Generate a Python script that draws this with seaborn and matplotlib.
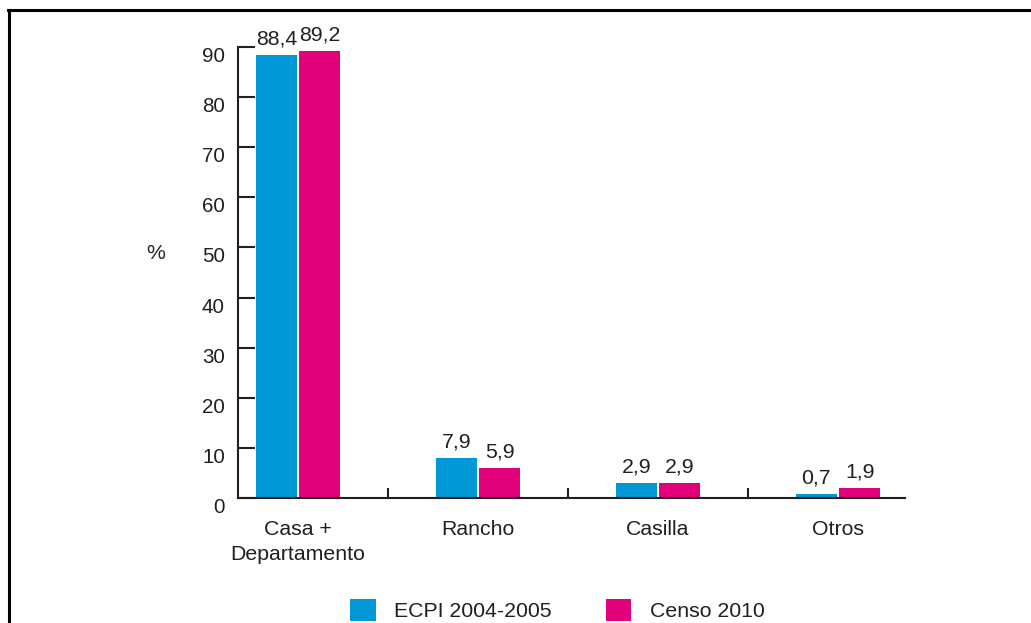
import matplotlib
matplotlib.use("Agg")
import matplotlib.pyplot as plt
from matplotlib.lines import Line2D
import seaborn as sns
import pandas as pd

categories = ["Casa +\nDepartamento", "Rancho", "Casilla", "Otros"]
series_names = ["ECPI 2004-2005", "Censo 2010"]
ecpi_values = [88.4, 7.9, 2.9, 0.7]
censo_values = [89.2, 5.9, 2.9, 1.9]
y_ticks = [0, 10, 20, 30, 40, 50, 60, 70, 80, 90]
colors = ["#0098D6", "#E3007B"]

df = pd.DataFrame({
    "cat": categories * 2,
    "serie": [series_names[0]] * 4 + [series_names[1]] * 4,
    "val": ecpi_values + censo_values,
})

sns.set_theme(style="ticks")
plt.rcParams["font.family"] = ["Liberation Sans", "DejaVu Sans"]
text_color = "#231F20"
plt.rcParams["text.color"] = text_color
plt.rcParams["xtick.color"] = text_color
plt.rcParams["ytick.color"] = text_color
plt.rcParams["axes.edgecolor"] = text_color

W, H = 1031, 623
fig = plt.figure(figsize=(W / 100, H / 100), dpi=100)
ax = fig.add_axes([238 / W, 1 - 498 / H, (905 - 238) / W, (498 - 47) / H])

sns.barplot(data=df, x="cat", y="val", hue="serie", order=categories,
            hue_order=series_names, palette=colors, width=0.48, gap=0.06,
            errorbar=None, linewidth=0, saturation=1, ax=ax)

for cont in ax.containers:
    labels = [f"{b.get_height():.1f}".replace(".", ",") for b in cont]
    ax.bar_label(cont, labels=labels, padding=5, fontsize=15.3, color=text_color)

ax.set_xlim(-0.333, 3.372)
ax.set_ylim(0, 90)
ax.set_yticks(y_ticks)
ax.set_xticks(range(len(categories)))
ax.set_xticklabels(categories, fontsize=15.3, linespacing=1.4)
ax.set_xticks([0.5, 1.5, 2.5], minor=True)
ax.tick_params(axis="x", which="major", length=0, pad=16)
ax.tick_params(axis="x", which="minor", direction="in", length=7.5, width=1.5)
ax.tick_params(axis="y", direction="in", length=12.5, width=1.5, pad=9.4, labelsize=14.8)
for lbl in ax.get_yticklabels():
    lbl.set_va("top")

for s in ["top", "right"]:
    ax.spines[s].set_visible(False)
for s in ["left", "bottom"]:
    ax.spines[s].set_linewidth(1.5)

ax.set_xlabel("")
ax.set_ylabel("%", rotation=0, fontsize=15.3, ha="center", va="center")
ax.yaxis.set_label_coords(-0.123, 0.543)

sns.move_legend(ax, loc="center left", bbox_to_anchor=(350 / W, (H - 610) / H),
                bbox_transform=fig.transFigure, ncol=2, frameon=False, title=None,
                fontsize=15.3, handlelength=1.2, handleheight=1.2,
                handletextpad=0.87, columnspacing=2.55, borderpad=0,
                borderaxespad=0)

fig.add_artist(Line2D([8 / W, 1], [1 - 9.5 / H] * 2, transform=fig.transFigure,
                      color="black", lw=2.2, solid_capstyle="projecting"))
fig.add_artist(Line2D([8.5 / W] * 2, [0, 1 - 9.5 / H], transform=fig.transFigure,
                      color="black", lw=2.2, solid_capstyle="projecting"))

fig.savefig("out.png", dpi=100, facecolor="white")
